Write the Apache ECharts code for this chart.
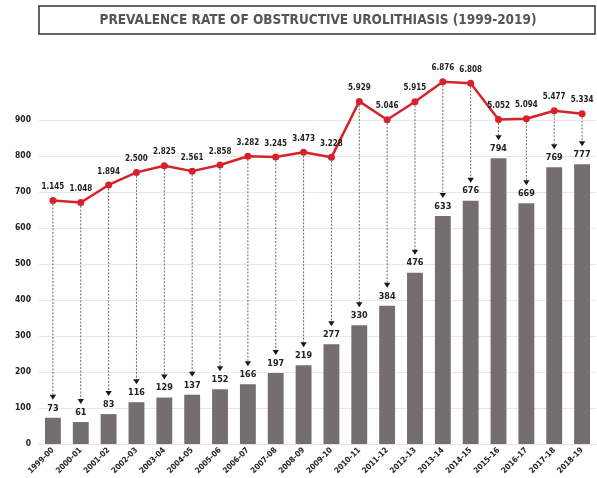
<!DOCTYPE html>
<html>
<head>
<meta charset="utf-8">
<script src="https://cdn.jsdelivr.net/npm/echarts@6/dist/echarts.min.js"></script>
<style>
html,body{margin:0;padding:0;background:#fff;}
#chart{width:597px;height:478px;}
</style>
</head>
<body>
<div id="chart"></div>
<script>
const titleText = 'PREVALENCE RATE OF OBSTRUCTIVE UROLITHIASIS (1999-2019)';
const categories = ['1999-00','2000-01','2001-02','2002-03','2003-04','2004-05','2005-06','2006-07','2007-08','2008-09','2009-10','2010-11','2011-12','2012-13','2013-14','2014-15','2015-16','2016-17','2017-18','2018-19'];
const cases = [73,61,83,116,129,137,152,166,197,219,277,330,384,476,633,676,794,669,769,777];
const rates = [1.145,1.048,1.894,2.500,2.825,2.561,2.858,3.282,3.245,3.473,3.228,5.929,5.046,5.915,6.876,6.808,5.052,5.094,5.477,5.334];

const FONT = '"DejaVu Sans Condensed", sans-serif';
const rMin = -10.62, rMax = 6.77;
const yMax = 1000;

const chart = echarts.init(document.getElementById('chart'));
chart.setOption({
  animation: false,
  graphic: [
    { type: 'rect', shape: { x: 39, y: 6, width: 556, height: 28 },
      style: { fill: '#fff', stroke: '#333', lineWidth: 1.5 } },
    { type: 'text', x: 318, y: 20,
      style: { text: titleText, fill: '#555', font: 'bold 13.5px ' + FONT,
               textAlign: 'center', textVerticalAlign: 'middle' } }
  ],
  grid: { left: 39, right: 1, top: 84, bottom: 34 },
  xAxis: {
    type: 'category', data: categories,
    axisTick: { show: false },
    axisLine: { lineStyle: { color: '#e2e2e2' } },
    axisLabel: { interval: 0, rotate: 45, fontSize: 8, fontWeight: 'bold', color: '#222', fontFamily: FONT, margin: 5 }
  },
  yAxis: [
    { type: 'value', min: 0, max: yMax, interval: 100,
      axisLabel: { fontSize: 8.5, fontWeight: 'bold', color: '#222', fontFamily: FONT, margin: 8,
                   formatter: v => (v >= yMax ? '' : String(v)) },
      axisLine: { show: false }, axisTick: { show: false },
      splitLine: { showMaxLine: false, lineStyle: { color: '#e8e8e8' } } },
    { type: 'value', min: rMin, max: rMax, show: false, splitLine: { show: false } }
  ],
  series: [
    { type: 'bar', data: cases, barWidth: '57%', z: 2,
      itemStyle: { color: '#756e6e' },
      label: { show: true, position: 'top', distance: 5, fontSize: 9, fontWeight: 'bold',
               color: '#222', fontFamily: FONT } },
    { type: 'custom', z: 3, yAxisIndex: 0,
      data: cases.map((c, i) => [i, c, rates[i]]),
      renderItem: function (params, api) {
        const i = api.value(0);
        const base = api.coord([i, 0]);
        const top = api.coord([i, yMax]);
        const x = base[0];
        const yLine = base[1] + (api.value(2) - rMin) / (rMax - rMin) * (top[1] - base[1]);
        const yBar = api.coord([i, api.value(1)])[1];
        const tip = yBar - 18;
        return { type: 'group', children: [
          { type: 'line', shape: { x1: x, y1: yLine, x2: x, y2: tip - 4 },
            style: { stroke: '#444', lineWidth: 0.8, lineDash: [2, 1.5] } },
          { type: 'polygon', shape: { points: [[x - 3.2, tip - 5], [x + 3.2, tip - 5], [x, tip]] },
            style: { fill: '#1a1a1a' } }
        ] };
      }
    },
    { type: 'line', yAxisIndex: 1, data: rates, z: 4, clip: false,
      symbol: 'circle', symbolSize: 7,
      lineStyle: { color: '#d6222a', width: 2.5 },
      itemStyle: { color: '#d6222a' },
      label: { show: true, position: 'top', distance: 6, fontSize: 8, fontWeight: 'bold',
               color: '#222', fontFamily: FONT, formatter: p => p.value.toFixed(3) } }
  ]
});
</script>
</body>
</html>
